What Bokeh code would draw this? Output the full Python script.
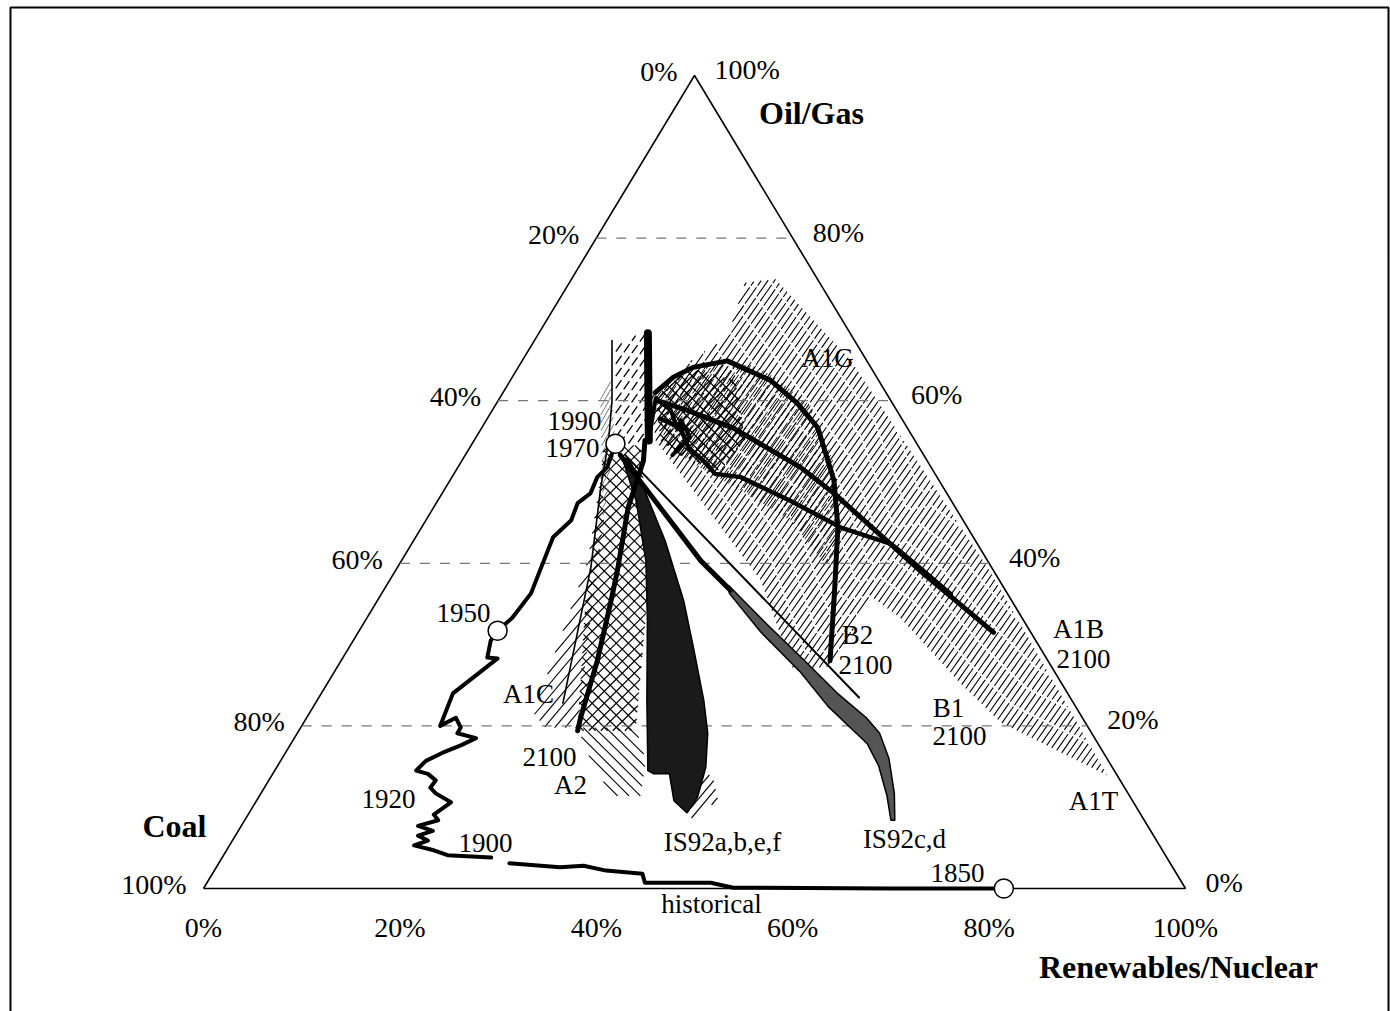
import math
import numpy as np
from bokeh.plotting import figure
from bokeh.models import Range1d
from bokeh.embed import file_html
from bokeh.resources import INLINE
from bokeh.core.properties import value

nan = float("nan")

# ---------------- data: shares in percent (renewables/nuclear, oil/gas); coal = rest ----------------
ticks = [0, 20, 40, 60, 80, 100]

hist_renew = [81.5, 69.8, 53.9, 51.3, 44.6, 43.8, 39.9, 37.3, 35.0, 29.6, nan,
              27.4, 22.8, 21.1, 18.8, 19.9, 18.6, 19.8, 18.0, 19.7, 18.9, 19.9, 17.8, 16.9, 17.0,
              15.8, 14.4, 14.8, 16.0, 17.4, 18.5, 16.3, 16.3, 15.2, 14.1, 13.4, 15.8, 14.7, 14.0,
              14.1, 14.8, 15.2, 14.5, 14.0, 14.8, 14.4, 15.1, 14.8, 15.2, 14.6]
hist_oilgas = [0.0, 0.0, 0.1, 0.7, 0.7, 1.8, 2.2, 2.8, 2.6, 3.1, nan,
               3.8, 4.1, 4.7, 5.3, 5.9, 6.5, 7.1, 7.7, 8.4, 9.1, 10.6, 11.7, 12.4, 13.3,
               14.1, 14.5, 15.7, 16.7, 17.6, 18.5, 19.1, 19.8, 21.0, 20.0, 24.0, 28.3, 28.4, 30.5,
               31.7, 33.3, 36.3, 40.3, 43.2, 45.3, 47.4, 48.6, 50.6, 51.8, 54.7]

marker_years = ["1850", "1950", "1970"]
marker_renew = [81.5, 14.1, 14.6]
marker_oilgas = [0.0, 31.7, 54.7]

a1g_b2_renew = [15.5, 16.4, 17.8, 20.9, 26.5, 30.6, 34.2, 39.1, 42.4, 46.1, 49.8]
a1g_b2_oilgas = [61.0, 62.9, 64.1, 64.9, 62.5, 59.7, 56.7, 50.2, 44.4, 36.3, 28.0]

a1b_renew = [16.2, 19.9, 25.7, 34.9, 39.9, 54.0, 64.7]
a1b_oilgas = [60.0, 58.8, 56.6, 51.8, 48.6, 38.7, 31.5]

a1_2_renew = [17.6, 20.2, 22.3, 24.9, 26.6, 29.4, 35.9, 42.7, 48.8, 53.3, 58.0]
a1_2_oilgas = [57.8, 56.7, 54.2, 52.4, 51.0, 50.6, 47.7, 44.4, 42.4, 39.4, 36.2]

zig_renew = [17.8, 15.9, 18.2, 19.9, 19.8, 21.8, 21.1]
zig_oilgas = [55.1, 60.3, 58.8, 56.6, 57.6, 55.5, 53.3]

bar_renew = [11.1, 17.8]
bar_oilgas = [68.3, 55.1]

a2_renew = [17.4, 18.5, 19.8, 22.6, 23.9, 26.1, 27.9, 28.4]
a2_oilgas = [55.1, 52.6, 46.9, 39.1, 35.1, 28.0, 21.0, 19.4]

a1c_renew = [7.9, 11.6, 13.7, 15.8, 19.7, 25.2]
a1c_oilgas = [67.4, 60.0, 55.1, 49.3, 39.5, 22.8]

b1_renew = [16.3, 55.0]
b1_oilgas = [53.3, 23.5]

is92cd_stem_renew = [15.8, 30.5, 35.3]
is92cd_stem_oilgas = [53.3, 40.3, 36.7]

is92cd_band_renew = [34.8, 41.0, 47.5, 52.7, 57.0, 59.3, 61.8, 64.5, 66.2,
                     65.8, 63.9, 61.2, 58.7, 56.5, 52.4, 47.5, 40.9, 35.4]
is92cd_band_oilgas = [37.3, 32.6, 27.8, 23.9, 21.0, 19.1, 16.0, 11.7, 8.4,
                      8.4, 11.4, 15.1, 17.8, 19.4, 22.4, 26.6, 31.6, 36.3]

is92abef_renew = [16.2, 20.2, 24.9, 28.7, 33.6, 38.0, 38.8, 40.4, 42.5, 44.6, 44.7,
                  43.7, 41.8, 39.4, 35.3, 31.2, 25.6, 19.4, 16.8]
is92abef_oilgas = [52.9, 47.7, 40.3, 33.0, 23.1, 14.5, 14.1, 14.1, 10.8, 9.3, 11.2,
                   14.9, 19.1, 23.1, 29.3, 35.4, 42.8, 50.2, 52.9]

# ranges (hatched areas)
a1_range_renew = [17.9, 20.7, 33.5, 60.5, 85.1, 71.0, 64.5, 54.3, 49.9, 50.5, 46.7,
                  37.8, 32.3, 26.8, 18.5, 15.2, 17.2, 19.4]
a1_range_oilgas = [74.5, 75.0, 64.9, 39.1, 13.9, 20.4, 25.2, 33.3, 36.0, 27.4, 26.8,
                   37.9, 42.8, 47.7, 55.1, 60.6, 64.9, 68.0]

loop_range_renew = [15.7, 18.3, 24.6, 32.1, 37.8, 42.9, 44.3, 37.1, 30.2, 24.8, 19.8]
loop_range_oilgas = [60.6, 64.7, 64.3, 59.4, 52.6, 44.0, 39.1, 45.3, 49.0, 51.7, 54.5]

cross_range_renew = [15.7, 17.6, 22.9, 27.6, 26.9, 21.9, 19.0]
cross_range_oilgas = [60.6, 64.0, 62.5, 55.1, 51.4, 53.3, 55.1]

a2_range_renew = [13.5, 17.3, 25.2, 28.5, 34.3, 28.4, 21.2, 16.4]
a2_range_oilgas = [54.5, 54.5, 40.3, 33.0, 19.4, 19.4, 35.4, 47.7]

a2_low_renew = [28.2, 34.1, 37.2, 38.8, 35.9, 31.6]
a2_low_oilgas = [19.8, 19.8, 15.7, 11.4, 11.4, 15.7]

a1c_range_renew = [15.3, 19.0, 22.8, 24.9, 28.2, 22.9, 18.1]
a1c_range_oilgas = [50.2, 40.3, 21.6, 19.8, 19.8, 33.0, 45.3]

top_range_renew = [8.6, 10.7, 17.8, 14.7]
top_range_oilgas = [66.8, 68.6, 55.1, 54.5]

gray_range_renew = [10.1, 10.2, 14.7, 18.3]
gray_range_oilgas = [60.6, 62.5, 54.5, 44.8]

tip_range_renew = [42.3, 44.9, 47.0, 45.3]
tip_range_oilgas = [14.5, 13.9, 10.8, 8.6]

# ---------------- geometry ----------------
W, H = 1390, 1011
PX_X, PX_Y = 9.82, 8.13          # pixels per percent
OX, OY = 203, 888                # pixel of the 100 % coal corner


def tern(renew, oilgas):
    r = np.asarray(renew, dtype=float)
    g = np.asarray(oilgas, dtype=float)
    return r + g / 2.0, g


def page(px, py):
    """pixel -> data coordinate (for text placement)"""
    return (px - OX) / PX_X, (OY - py) / PX_Y


p = figure(width=W, height=H, output_backend="svg", toolbar_location=None,
           x_range=Range1d(-OX / PX_X, (W - OX) / PX_X),
           y_range=Range1d((OY - H) / PX_Y, OY / PX_Y),
           x_axis_type=None, y_axis_type=None,
           min_border=0, min_border_left=0, min_border_right=0,
           min_border_top=0, min_border_bottom=0)
p.grid.visible = False
p.outline_line_color = None
p.background_fill_color = "white"
p.border_fill_color = "white"

FONT = value("Liberation Serif")

# frame around the figure
fx = [page(10, 1015)[0], page(10, 7)[0], page(1388, 7)[0], page(1388, 1015)[0]]
fy = [page(10, 1015)[1], page(10, 7)[1], page(1388, 7)[1], page(1388, 1015)[1]]
p.line(fx, fy, line_color="black", line_width=2)


# ---------------- hatched ranges (hatch lines clipped to the range polygons) ----------------
def hatch(renew, oilgas, angle, spacing, width=1.0, color="black", dash="solid"):
    X, Y = tern(renew, oilgas)
    sx = X * PX_X                 # screen-like coords (y downwards)
    sy = -Y * PX_Y
    a = math.radians(angle)
    dx, dy = math.cos(a), -math.sin(a)
    nx, ny = math.sin(a), math.cos(a)
    proj = sx * nx + sy * ny
    n = len(sx)
    xs, ys = [], []
    c = proj.min() + spacing / 2.0
    while c < proj.max():
        hits = []
        for i in range(n):
            j = (i + 1) % n
            s1, s2 = proj[i] - c, proj[j] - c
            if (s1 < 0) != (s2 < 0):
                t = s1 / (s1 - s2)
                qx = sx[i] + t * (sx[j] - sx[i])
                qy = sy[i] + t * (sy[j] - sy[i])
                hits.append((qx * dx + qy * dy, qx, qy))
        hits.sort()
        for k in range(0, len(hits) - 1, 2):
            (_, x1, y1), (_, x2, y2) = hits[k], hits[k + 1]
            xs.append([x1 / PX_X, x2 / PX_X])
            ys.append([-y1 / PX_Y, -y2 / PX_Y])
        c += spacing
    p.multi_line(xs, ys, line_color=color, line_width=width, line_dash=dash)


hatch(a1_range_renew, a1_range_oilgas, 55, 5.5, 1.1, "black", "20 2")
hatch(loop_range_renew, loop_range_oilgas, 55, 4.5, 1.0, "black", "14 3")
hatch(cross_range_renew, cross_range_oilgas, 45, 8, 1.3)
hatch(cross_range_renew, cross_range_oilgas, 135, 8, 1.3)
hatch(a2_range_renew, a2_range_oilgas, 45, 8.5, 1.2)
hatch(a2_range_renew, a2_range_oilgas, 135, 8.5, 1.2)
hatch(a2_low_renew, a2_low_oilgas, 135, 8, 1.1)
hatch(a1c_range_renew, a1c_range_oilgas, 50, 8, 1.1)
hatch(top_range_renew, top_range_oilgas, 55, 7, 1.3, "black", "10 4")
hatch(gray_range_renew, gray_range_oilgas, 60, 4, 1.0, "#777777")
hatch(tip_range_renew, tip_range_oilgas, 50, 7, 1.2)

# ---------------- triangle and grid ----------------
tx, ty = tern([0, 100, 0, 0], [0, 0, 100, 0])
p.line(tx, ty, line_color="black", line_width=1.6)
for g in ticks[1:-1]:
    gx, gy = tern([0, 100 - g], [g, g])
    p.line(gx, gy, line_color="#777777", line_width=1.2, line_dash="10 10")

# ---------------- scenario shapes ----------------
x, y = tern(is92abef_renew, is92abef_oilgas)
p.patch(x, y, fill_color="#1a1a1a", line_color="black", line_width=1.5)

x, y = tern(is92cd_band_renew, is92cd_band_oilgas)
p.patch(x, y, fill_color="#555555", line_color="black", line_width=1.5)


def line(renew, oilgas, width):
    x, y = tern(renew, oilgas)
    p.line(x, y, line_color="black", line_width=width, line_cap="round", line_join="round")


line(a1g_b2_renew, a1g_b2_oilgas, 5)
line(a1b_renew, a1b_oilgas, 5)
line(a1_2_renew, a1_2_oilgas, 4.5)
line(zig_renew, zig_oilgas, 4)
line(bar_renew, bar_oilgas, 8)
line(a2_renew, a2_oilgas, 5)
line(a1c_renew, a1c_oilgas, 1.6)
line(b1_renew, b1_oilgas, 2)
line(is92cd_stem_renew, is92cd_stem_oilgas, 5)
line(hist_renew, hist_oilgas, 4)

x, y = tern(marker_renew, marker_oilgas)
p.scatter(x, y, size=19, marker="circle", fill_color="white", line_color="black", line_width=1.5)


# ---------------- texts ----------------
def txt(items, size, style="normal", align="center"):
    xs, ys, ts = [], [], []
    for t, (xx, yy) in items:
        xs.append(xx); ys.append(yy); ts.append(t)
    p.text(x=xs, y=ys, text=ts, text_font=FONT, text_font_size=size,
           text_font_style=style, text_align=align, text_baseline="middle",
           text_color="black")


# tick labels anchored to the triangle's edges
left_items, right_items, bottom_items = [], [], []
for g in ticks:
    lx, ly = tern([0], [g])
    left_items.append((f"{100 - g}%", (lx[0] - 17 / PX_X, ly[0] + 4 / PX_Y)))
    rx, ry = tern([100 - g], [g])
    right_items.append((f"{g}%", (rx[0] + 20 / PX_X, ry[0] + 6 / PX_Y)))
for r in ticks:
    bx, by = tern([r], [0])
    bottom_items.append((f"{r}%", (bx[0], by[0] - 39 / PX_Y)))
txt(left_items, "28px", align="right")
txt(right_items, "28px", align="left")
txt(bottom_items, "28px")

txt([("Oil/Gas", page(811, 112)),
     ("Coal", page(174, 825)),
     ("Renewables/Nuclear", page(1178, 966))], "32px", style="bold")

txt([("1990", page(574, 420)), ("1970", page(572, 447)),
     ("1950", page(463, 612)), ("1920", page(388, 798)),
     ("1900", page(485, 842)), ("1850", page(957, 872)),
     ("historical", page(711, 903)),
     ("IS92a,b,e,f", page(722, 841)), ("IS92c,d", page(904, 838)),
     ("A1C", page(528, 693)), ("2100", page(549, 756)), ("A2", page(570, 784)),
     ("B2", page(857, 634)), ("2100", page(865, 664)),
     ("A1G", page(827, 357)),
     ("A1B", page(1078, 628)), ("2100", page(1083, 658)),
     ("B1", page(948, 707)), ("2100", page(959, 735)),
     ("A1T", page(1093, 800))], "27px")

open("out.html", "w").write(file_html(p, INLINE))
